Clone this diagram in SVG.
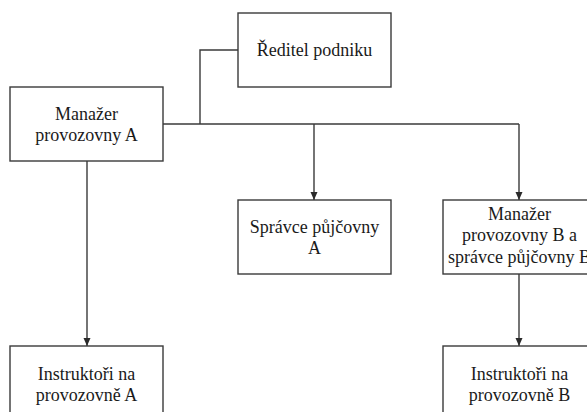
<svg xmlns="http://www.w3.org/2000/svg" width="587" height="412" viewBox="0 0 587 412">
  <style>
    .box { fill: #ffffff; stroke: #3a3a3a; stroke-width: 1.4; }
    .lbl { font-family: 'Liberation Serif', 'DejaVu Serif', serif; font-size: 18px; fill: #1a1a1a; text-anchor: middle; }
    .link { fill: none; stroke: #3a3a3a; stroke-width: 1.4; }
  </style>
  <defs>
    <marker id="arrow" viewBox="0 0 8 10" refX="8" refY="5" markerWidth="8" markerHeight="10" markerUnits="userSpaceOnUse" orient="auto">
      <path d="M0,1.5 L8,5 L0,8.5 Z" fill="#2a2a2a"/>
    </marker>
  </defs>
  <rect width="587" height="412" fill="#ffffff"/>

  <!-- connectors -->
  <g id="connectors">
    <path class="link" d="M238,50 H200 V124"/>
    <path class="link" d="M163,124 H519"/>
    <path class="link" d="M314,124 V200" marker-end="url(#arrow)"/>
    <path class="link" d="M519,124 V200" marker-end="url(#arrow)"/>
    <path class="link" d="M87,161 V346" marker-end="url(#arrow)"/>
    <path class="link" d="M519,274 V346" marker-end="url(#arrow)"/>
  </g>

  <g id="reditel">
    <rect class="box" x="238" y="13" width="153" height="74"/>
    <text class="lbl" x="314.5" y="56">Ředitel podniku</text>
  </g>

  <g id="manazer-a">
    <rect class="box" x="10" y="87" width="153" height="74"/>
    <text class="lbl" x="86.5" y="119.5">Manažer</text>
    <text class="lbl" x="86.5" y="140.5">provozovny A</text>
  </g>

  <g id="spravce-a">
    <rect class="box" x="238" y="200" width="153" height="74"/>
    <text class="lbl" x="314.5" y="232.5">Správce půjčovny</text>
    <text class="lbl" x="314.5" y="253.5">A</text>
  </g>

  <g id="manazer-b">
    <rect class="box" x="443" y="200" width="153" height="74"/>
    <text class="lbl" x="519.5" y="219.5">Manažer</text>
    <text class="lbl" x="519.5" y="241">provozovny B a</text>
    <text class="lbl" x="519.5" y="262.5">správce půjčovny B</text>
  </g>

  <g id="instruktori-a">
    <rect class="box" x="10" y="346" width="153" height="74"/>
    <text class="lbl" x="86.5" y="380">Instruktoři na</text>
    <text class="lbl" x="86.5" y="401">provozovně A</text>
  </g>

  <g id="instruktori-b">
    <rect class="box" x="443" y="346" width="153" height="74"/>
    <text class="lbl" x="519.5" y="380">Instruktoři na</text>
    <text class="lbl" x="519.5" y="401">provozovně B</text>
  </g>
</svg>
